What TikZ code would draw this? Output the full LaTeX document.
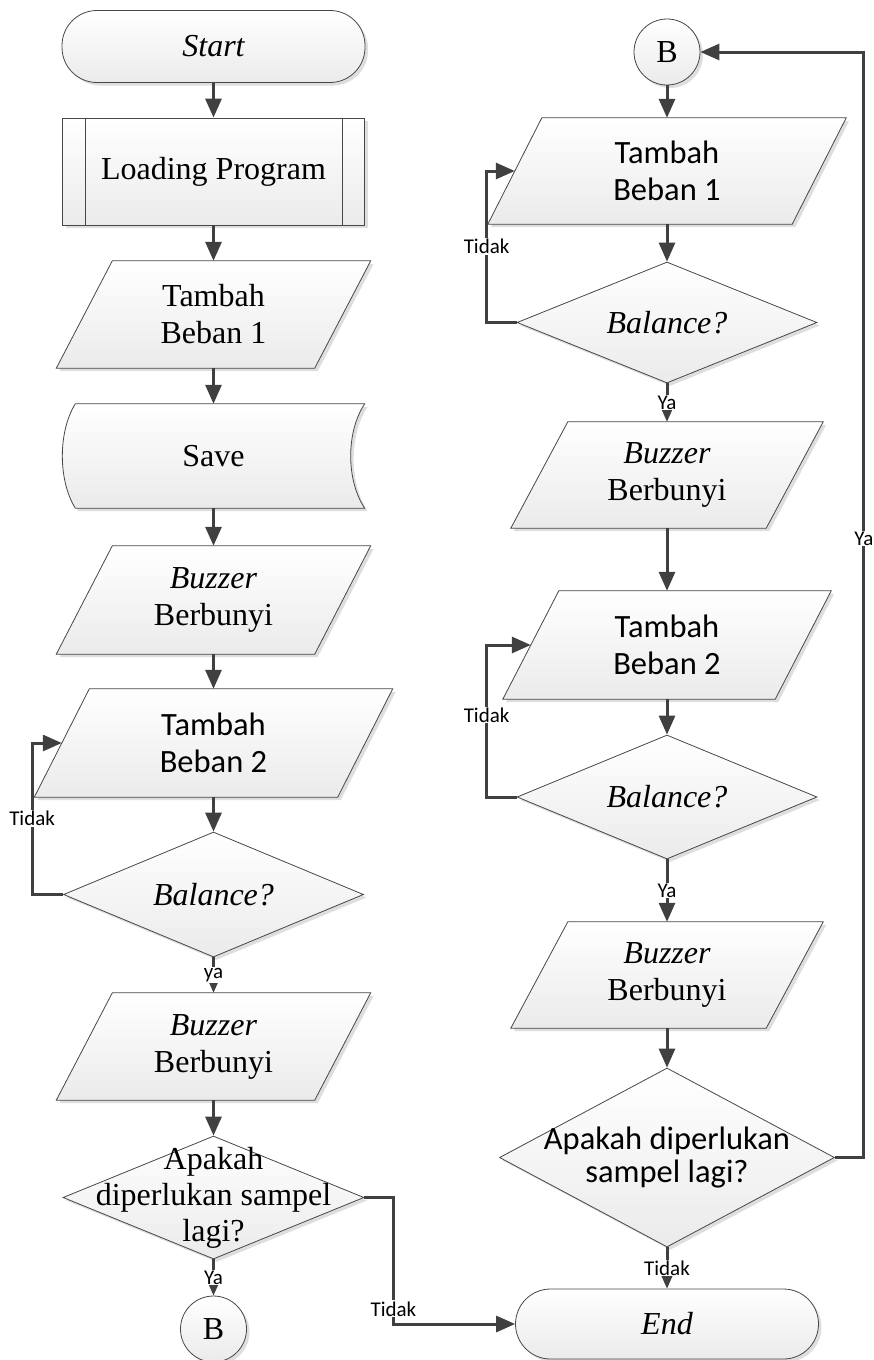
\documentclass[tikz,border=0pt]{standalone}
\usepackage{fontspec}
\setmainfont{Liberation Serif}
\newfontfamily\calib{Carlito}
\usetikzlibrary{shapes.geometric,arrows.meta,calc,shadows,backgrounds}
\newcommand\pgram[2]{\path[shp] ($(#1.north west)+(#2*0.5,0)$) -- ($(#1.north east)+(#2*0.5,0)$) -- ($(#1.south east)+(-#2*0.5,0)$) -- ($(#1.south west)+(-#2*0.5,0)$) -- cycle;}
\begin{document}
\begin{tikzpicture}[x=1pt,y=-1pt,
  shp/.style={draw=black!72, line width=0.8pt, top color=white, bottom color=black!8,
    drop shadow={shadow xshift=3pt,shadow yshift=-3pt,fill=black!13,opacity=1}},
  tm/.style={font=\fontsize{32}{37}\selectfont, align=center},
  cb/.style={font=\calib\fontsize{32.5}{37}\selectfont, align=center},
  term/.style={shp, rectangle, rounded corners=35pt, minimum width=303pt, minimum height=72pt, inner sep=0pt, tm},
  ppbox/.style={shp, rectangle, minimum width=302pt, minimum height=107pt, inner sep=0pt, tm},
  pbox/.style={rectangle, inner sep=0pt, align=center},
  dec/.style={shp, diamond, aspect=2.4, inner sep=0pt},
  conbox/.style={shp, circle, minimum size=66pt, inner sep=0pt, tm},
  conn/.style={draw=black!75, line width=3pt, -{Triangle[length=19pt,width=16pt]}},
  lbl/.style={fill=white, inner sep=1pt, font=\calib\fontsize{21}{23}\selectfont},
  thinl/.style={draw=black!72, line width=0.8pt}
]
\useasboundingbox (0,0) rectangle (874,1360);

% ---------- left column ----------
\node[term] (st) at (213.5,46.5) {\itshape Start};
\node[ppbox] (lp) at (213.5,171.5) {Loading Program};
\draw[thinl] ([xshift=23pt]lp.north west) -- ([xshift=23pt]lp.south west);
\draw[thinl] ([xshift=-23pt]lp.north east) -- ([xshift=-23pt]lp.south east);
\node[pbox, tm, minimum width=258pt, minimum height=107pt] (tbL1) at (213.5,314.5) {Tambah\\Beban 1};
\node[pbox, tm, minimum width=302pt, minimum height=104pt] (sv) at (213.5,456) {Save};
\node[pbox, tm, minimum width=258pt, minimum height=108pt] (bzL1) at (213.5,600) {\itshape Buzzer\\Berbunyi};
\node[pbox, cb, minimum width=303pt, minimum height=108pt] (tbL2) at (213.5,743) {Tambah\\Beban 2};
\node[dec, tm, minimum width=300pt, minimum height=125pt] (baL) at (213.5,894.5) {\itshape Balance?};
\node[pbox, tm, minimum width=258pt, minimum height=107pt] (bzL2) at (213.5,1046.5) {\itshape Buzzer\\Berbunyi};
\node[dec, minimum width=301pt, minimum height=123pt] (apL) at (213.5,1197.5) {};
\node[tm, font=\fontsize{32}{36}\selectfont, inner sep=0pt] (apLt) at (apL.center) {Apakah\\diperlukan sampel\\lagi?};
\node[conbox] (bL) at (213.5,1329) {B};

% ---------- right column ----------
\node[conbox] (bR) at (667,52) {B};
\node[pbox, cb, minimum width=304pt, minimum height=106pt] (tbR1) at (667,171) {Tambah\\Beban 1};
\node[dec, tm, minimum width=300pt, minimum height=121pt] (baR1) at (667,322.5) {\itshape Balance?};
\node[pbox, tm, minimum width=255pt, minimum height=106pt] (bzR1) at (667,475) {\itshape Buzzer\\Berbunyi};
\node[pbox, cb, minimum width=272pt, minimum height=108pt] (tbR2) at (667,645) {Tambah\\Beban 2};
\node[dec, tm, minimum width=300pt, minimum height=124pt] (baR2) at (667,797) {\itshape Balance?};
\node[pbox, tm, minimum width=255pt, minimum height=106pt] (bzR2) at (667,975) {\itshape Buzzer\\Berbunyi};
\node[dec, minimum width=335pt, minimum height=179pt] (apR) at (667,1157.5) {};
\node[cb, font=\calib\fontsize{32.5}{32.5}\selectfont, inner sep=0pt] (apRt) at (apR.center) {Apakah diperlukan\\sampel lagi?};
\node[term, minimum height=70pt] (en) at (667,1324) {\itshape End};

% ---------- shapes behind texts ----------
\begin{scope}[on background layer]
\pgram{tbL1}{56}
\pgram{bzL1}{56}
\pgram{tbL2}{55}
\pgram{bzL2}{56}
\pgram{tbR1}{54}
\pgram{bzR1}{57}
\pgram{tbR2}{56}
\pgram{bzR2}{57}
\path[shp] ($(sv.north west)+(13,0)$) -- (sv.north east)
  .. controls ($(sv.north east)+(-18.7,28)$) and ($(sv.south east)+(-18.7,-28)$) .. (sv.south east)
  -- ($(sv.south west)+(13,0)$)
  .. controls ($(sv.south west)+(-4.3,-28)$) and ($(sv.north west)+(-4.3,28)$) .. ($(sv.north west)+(13,0)$) -- cycle;
\end{scope}

% ---------- connectors, left ----------
\draw[conn] (st) -- (lp);
\draw[conn] (lp) -- (tbL1);
\draw[conn] (tbL1) -- (sv);
\draw[conn] (sv) -- (bzL1);
\draw[conn] (bzL1) -- (tbL2);
\draw[conn] (tbL2) -- (baL);
\draw[conn] (baL.west) -- ++(-31,0) |- node[lbl,pos=0.25]{Tidak} (tbL2.west);
\draw[conn] (baL) -- node[lbl]{ya} (bzL2);
\draw[conn] (bzL2) -- (apL);
\draw[conn] (apL) -- node[lbl]{Ya} (bL);
\draw[conn] (apL.east) -- ++(29,0) |- node[lbl,pos=0.44]{Tidak} (en.west);

% ---------- connectors, right ----------
\draw[conn] (bR) -- (tbR1);
\draw[conn] (tbR1) -- (baR1);
\draw[conn] (baR1.west) -- ++(-30,0) |- node[lbl,pos=0.25]{Tidak} (tbR1.west);
\draw[conn] (baR1) -- node[lbl]{Ya} (bzR1);
\draw[conn] (bzR1) -- (tbR2);
\draw[conn] (tbR2) -- (baR2);
\draw[conn] (baR2.west) -- ++(-30,0) |- node[lbl,pos=0.27]{Tidak} (tbR2.west);
\draw[conn] (baR2) -- node[lbl]{Ya} (bzR2);
\draw[conn] (bzR2) -- (apR);
\draw[conn] (apR) -- node[lbl]{Tidak} (en);
\draw[conn] (apR.east) -- ++(29,0) |- node[lbl,pos=0.28]{Ya} (bR.east);
\end{tikzpicture}
\end{document}
